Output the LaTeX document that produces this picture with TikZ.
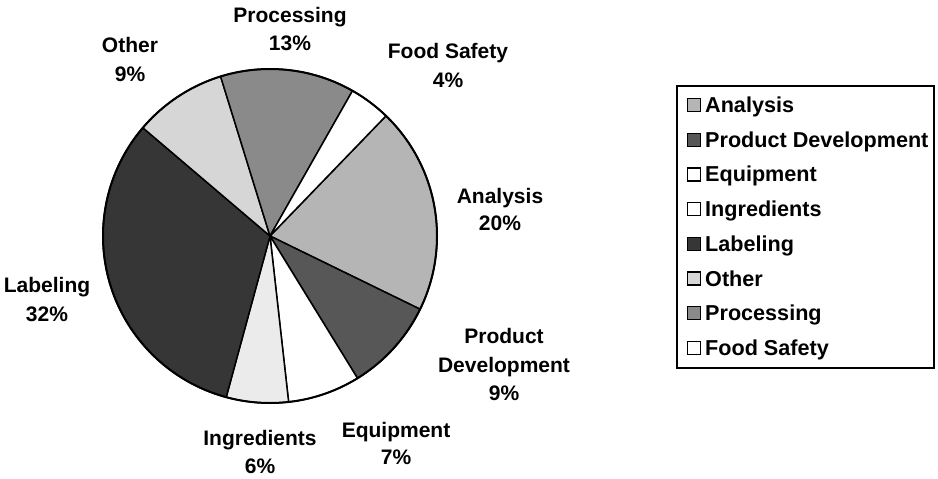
\documentclass[tikz,border=0pt]{standalone}
\usepackage{fontspec}
\setmainfont{Liberation Sans}
\begin{document}
\begin{tikzpicture}[x=1pt,y=-1pt,
  lbl/.style={anchor=base,inner sep=0pt,font=\bfseries\fontsize{21}{25}\selectfont},
  legtxt/.style={anchor=base west,inner sep=0pt,font=\bfseries\fontsize{21.6}{25}\selectfont},
  legmark/.style={draw=black,line width=1.2pt,minimum size=13pt,inner sep=0pt},
  slice/.style={draw=black,line width=1.5pt,line join=round}]
\definecolor{cAnal}{gray}{0.71}
\definecolor{cPD}{gray}{0.34}
\definecolor{cLab}{gray}{0.21}
\definecolor{cOther}{gray}{0.84}
\definecolor{cProc}{gray}{0.54}
\definecolor{cIngr}{gray}{0.92}
\useasboundingbox (0,0) rectangle (938,479);
\fill[white] (0,0) rectangle (938,479);
% pie (y-up inside scope)
\begin{scope}[shift={(270,236)},yscale=-1]
\def\R{167}
\newcommand\pieslice[3]{\filldraw[slice,fill=#3] (0,0) -- (#1:\R) arc[start angle=#1,end angle=#2,radius=\R] -- cycle;}
\pieslice{46}{-26}{cAnal}
\pieslice{-26}{-58.4}{cPD}
\pieslice{-58.4}{-83.6}{white}
\pieslice{-83.6}{-105.2}{cIngr}
\pieslice{-105.2}{-220.4}{cLab}
\pieslice{139.6}{107.2}{cOther}
\pieslice{107.2}{60.4}{cProc}
\pieslice{60.4}{46}{white}
\draw[line width=2pt] (0,0) circle[radius=\R];
\end{scope}
% labels
\node[lbl] (procA) at (290,22) {Processing};
\node[lbl] (procB) at (290,50) {13\%};
\node[lbl] (othA) at (130,52) {Other};
\node[lbl] (othB) at (130,81) {9\%};
\node[lbl] (fsA) at (448,58) {Food Safety};
\node[lbl] (fsB) at (448,87) {4\%};
\node[lbl] (anA) at (500,203) {Analysis};
\node[lbl] (anB) at (500,230) {20\%};
\node[lbl] (pdA) at (504,343) {Product};
\node[lbl] (pdB) at (504,372) {Development};
\node[lbl] (pdC) at (504,400) {9\%};
\node[lbl] (eqA) at (396,437) {Equipment};
\node[lbl] (eqB) at (396,464) {7\%};
\node[lbl] (inA) at (260,445) {Ingredients};
\node[lbl] (inB) at (260,473) {6\%};
\node[lbl] (lbA) at (47,292) {Labeling};
\node[lbl] (lbB) at (47,321) {32\%};
% legend
\draw[line width=1.8pt] (677,86) rectangle (934,368);
\foreach \i/\c/\t in {0/cAnal/Analysis,1/cPD/Product Development,2/white/Equipment,3/white/Ingredients,4/cLab/Labeling,5/cOther/Other,6/cProc/Processing,7/white/Food Safety}{
  \node[legmark,fill=\c] (m\i) at (694,{105+34.7*\i}) {};
  \node[legtxt] (t\i) at (705,{112.5+34.7*\i}) {\t};
}
\end{tikzpicture}
\end{document}
